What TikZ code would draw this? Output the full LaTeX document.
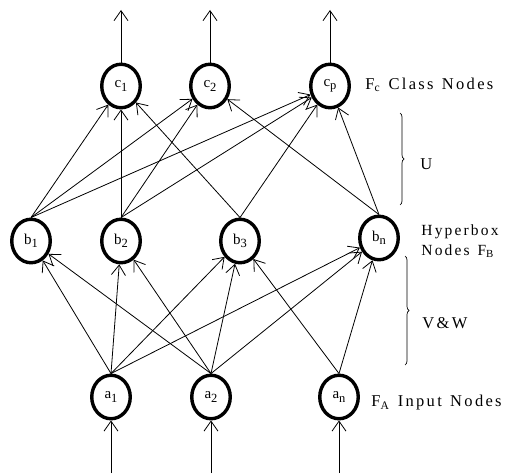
\documentclass[tikz,border=0pt]{standalone}
\usepackage{fontspec}
\setmainfont{Liberation Serif}
\newfontfamily\layerfont{Liberation Serif}[LetterSpace=14,WordSpace=1.3]
\usetikzlibrary{arrows.meta}
\usetikzlibrary{shapes.geometric}
\usetikzlibrary{decorations.pathreplacing}

\newcommand{\nodesub}[2]{#1\raisebox{-0.5ex}{\fontsize{12.5}{12}\selectfont #2}}

\begin{document}
\begin{tikzpicture}[x=1pt, y=-1pt, >={Straight Barb[length=10pt,width=14pt]}, line width=0.8pt,
  every neuron/.style={ellipse, draw, line width=3.4pt, minimum width=38.5pt, minimum height=43.5pt,
    inner sep=0pt, font=\fontsize{15}{15}\selectfont},
  layer text/.style={anchor=west, align=left, inner sep=0pt, font=\layerfont\fontsize{16.5}{20}\selectfont},
  layer brace/.style={decorate, decoration={brace, amplitude=4pt}, line width=0.7pt}]

\useasboundingbox (0,0) rectangle (505,473);

\foreach \m/\x in {1/111,2/211,n/339}
  \node [every neuron] (input-\m) at (\x,397) {\nodesub{a}{\m}};

\foreach \m/\x/\y in {1/31/241,2/121/241,3/240/241,n/379/238}
  \node [every neuron] (hyper-\m) at (\x,\y) {\nodesub{b}{\m}};

\foreach \m/\x in {1/121,2/210,p/330}
  \node [every neuron] (class-\m) at (\x,86) {\nodesub{c}{\m}};


\foreach \i in {1,2}
  \foreach \j in {1,2,3,n}
    \draw [->] (input-\i.north) -- (hyper-\j);

\foreach \j in {3,n}
  \draw [->] (input-n.north) -- (hyper-\j);

\foreach \i in {1,2}
  \foreach \j in {1,2,p}
    \draw [->] (hyper-\i.north) -- (class-\j);

\foreach \i/\j in {3/1,3/p,n/2,n/p}
  \draw [->] (hyper-\i.north) -- (class-\j);

\foreach \m in {1,2,p} {
  \coordinate (out-\m) at (class-\m.north |- 0,10);
  \draw [->] (class-\m.north) -- (out-\m);
}

\foreach \m in {1,2,n} {
  \coordinate (in-\m) at (input-\m.south |- 0,473);
  \draw [->] (in-\m) -- (input-\m.south);
}

% layer names
\node [layer text] (class-name) at (365,85) {F\textsubscript{c} Class Nodes};
\node [layer text] (u-name) at (420,164) {U};
\node [layer text, font=\layerfont\fontsize{15.5}{20}\selectfont] (hyper-name) at (421,241)
  {Hyperbox\\Nodes\ F\textsubscript{B}};
\node [layer text] (vw-name) at (422,323) {V\&W};
\node [layer text] (input-name) at (371,403) {F\textsubscript{A} Input Nodes};

\draw [layer brace] (400,113) -- (400,205);
\draw [layer brace] (405,256) -- (405,365);

\end{tikzpicture}
\end{document}
